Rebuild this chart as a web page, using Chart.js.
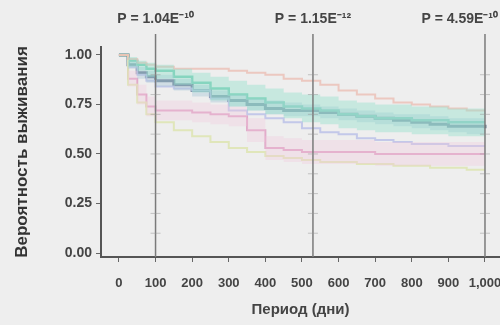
<!DOCTYPE html>
<html>
<head>
<meta charset="utf-8">
<script src="https://cdn.jsdelivr.net/npm/chart.js@4/dist/chart.umd.min.js"></script>
<style>
  html, body { margin: 0; padding: 0; background: #eeeeee; }
  #wrap { width: 500px; height: 325px; }
</style>
</head>
<body>
<div id="wrap"><canvas id="km"></canvas></div>
<script>
// days of follow-up
const days = [0, 25, 50, 75, 100, 150, 200, 250, 300, 350, 400, 450, 500, 550, 600, 650, 700, 750, 800, 850, 900, 950, 1000];

// survival estimates per group
const survDark = [1.0, 0.95, 0.91, 0.89, 0.87, 0.85, 0.82, 0.79, 0.77, 0.75, 0.73, 0.72, 0.72, 0.71, 0.70, 0.69, 0.68, 0.67, 0.66, 0.65, 0.64, 0.64, 0.63];
const darkUpper = [1.0, 0.97, 0.94, 0.92, 0.90, 0.88, 0.85, 0.82, 0.80, 0.78, 0.77, 0.76, 0.75, 0.74, 0.73, 0.72, 0.71, 0.70, 0.70, 0.69, 0.68, 0.68, 0.67];
const darkLower = [1.0, 0.93, 0.88, 0.86, 0.84, 0.82, 0.79, 0.76, 0.74, 0.72, 0.70, 0.69, 0.69, 0.68, 0.67, 0.66, 0.65, 0.64, 0.63, 0.62, 0.61, 0.60, 0.59];

const survTeal = [1.0, 0.97, 0.95, 0.93, 0.92, 0.89, 0.86, 0.83, 0.80, 0.78, 0.76, 0.74, 0.73, 0.72, 0.70, 0.69, 0.68, 0.68, 0.67, 0.67, 0.66, 0.66, 0.66];
const tealUpper = [1.0, 0.99, 0.97, 0.96, 0.95, 0.93, 0.91, 0.89, 0.87, 0.85, 0.83, 0.81, 0.80, 0.79, 0.77, 0.76, 0.75, 0.75, 0.74, 0.74, 0.73, 0.73, 0.73];
const tealLower = [1.0, 0.94, 0.92, 0.89, 0.88, 0.85, 0.81, 0.77, 0.74, 0.72, 0.70, 0.68, 0.66, 0.65, 0.63, 0.62, 0.61, 0.61, 0.60, 0.60, 0.59, 0.59, 0.58];

const survPink = [1.0, 0.88, 0.80, 0.74, 0.72, 0.72, 0.71, 0.70, 0.69, 0.62, 0.53, 0.52, 0.51, 0.51, 0.51, 0.51, 0.50, 0.50, 0.50, 0.50, 0.50, 0.50, 0.50];
const pinkUpper = [1.0, 0.92, 0.85, 0.79, 0.77, 0.77, 0.76, 0.75, 0.74, 0.68, 0.59, 0.58, 0.57, 0.57, 0.57, 0.57, 0.56, 0.56, 0.56, 0.56, 0.56, 0.56, 0.56];
const pinkLower = [1.0, 0.84, 0.75, 0.69, 0.67, 0.67, 0.66, 0.65, 0.64, 0.56, 0.47, 0.46, 0.45, 0.45, 0.45, 0.45, 0.44, 0.44, 0.44, 0.44, 0.44, 0.44, 0.44];

const survLavender = [1.0, 0.94, 0.90, 0.87, 0.84, 0.83, 0.82, 0.78, 0.72, 0.70, 0.68, 0.66, 0.63, 0.61, 0.60, 0.58, 0.57, 0.56, 0.55, 0.55, 0.54, 0.54, 0.54];
const survYellow = [1.0, 0.85, 0.76, 0.70, 0.66, 0.62, 0.59, 0.56, 0.53, 0.51, 0.49, 0.48, 0.47, 0.46, 0.46, 0.45, 0.45, 0.44, 0.44, 0.43, 0.43, 0.42, 0.42];
const survSalmon = [1.0, 0.98, 0.96, 0.95, 0.94, 0.93, 0.93, 0.93, 0.92, 0.91, 0.90, 0.88, 0.87, 0.85, 0.82, 0.80, 0.78, 0.76, 0.75, 0.74, 0.73, 0.72, 0.72];

// axis ticks and annotations
const yTicks = [0, 0.25, 0.5, 0.75, 1.0];
const xTicks = [0, 100, 200, 300, 400, 500, 600, 700, 800, 900, 1000];
const markerDays = [100, 530, 1000];
const markerLabels = ["P = 1.04E\u207B\u00B9\u2070", "P = 1.15E\u207B\u00B9\u00B2", "P = 4.59E\u207B\u00B9\u2070"];
const markerTicks = [0.1, 0.2, 0.3, 0.4, 0.5, 0.6, 0.7, 0.8, 0.9];

const FONT = '"Liberation Sans", Arial, sans-serif';
const pts = arr => arr.map((v, i) => ({ x: days[i], y: v }));

function band(upper, lower, color) {
  return [
    { data: pts(upper), stepped: true, borderWidth: 0, pointRadius: 0, backgroundColor: color, fill: '+1' },
    { data: pts(lower), stepped: true, borderWidth: 0, pointRadius: 0, backgroundColor: color, fill: false }
  ];
}

function line(vals, color, width) {
  return { data: pts(vals), stepped: true, borderColor: color, borderWidth: width, pointRadius: 0, fill: false };
}

const markers = {
  id: 'markers',
  afterDatasetsDraw(chart) {
    const { ctx, scales: { x, y } } = chart;
    ctx.save();
    markerDays.forEach((d, i) => {
      const px = x.getPixelForValue(d);
      ctx.strokeStyle = '#7a7a7a';
      ctx.lineWidth = 1.5;
      ctx.beginPath();
      ctx.moveTo(px, 34);
      ctx.lineTo(px, y.bottom);
      ctx.stroke();
      ctx.strokeStyle = 'rgba(150,150,150,0.5)';
      ctx.lineWidth = 1;
      markerTicks.forEach(t => {
        const py = y.getPixelForValue(t);
        ctx.beginPath();
        ctx.moveTo(px - 5, py);
        ctx.lineTo(px + 5, py);
        ctx.stroke();
      });
      ctx.fillStyle = '#444';
      ctx.font = 'bold 14px ' + FONT;
      ctx.textAlign = 'center';
      const w = ctx.measureText(markerLabels[i]).width;
      const cx = Math.min(px, chart.width - 2 - w / 2);
      ctx.fillText(markerLabels[i], cx, 23);
    });
    ctx.restore();
  }
};

new Chart(document.getElementById('km'), {
  type: 'line',
  data: {
    datasets: [
      ...band(tealUpper, tealLower, 'rgba(150, 225, 205, 0.45)'),
      ...band(darkUpper, darkLower, 'rgba(170, 200, 215, 0.45)'),
      ...band(pinkUpper, pinkLower, 'rgba(240, 200, 220, 0.35)'),
      line(survSalmon, 'rgba(235, 190, 180, 0.8)', 2),
      line(survYellow, 'rgba(222, 228, 180, 0.9)', 2),
      line(survLavender, 'rgba(190, 195, 232, 0.9)', 2),
      line(survPink, 'rgba(222, 160, 195, 0.9)', 2),
      line(survTeal, 'rgba(120, 205, 180, 1)', 2.5),
      line(survDark, 'rgba(100, 122, 142, 1)', 3)
    ]
  },
  options: {
    responsive: true,
    maintainAspectRatio: false,
    animation: false,
    layout: { padding: { top: 47, right: 0, left: 0, bottom: 0 } },
    plugins: { legend: { display: false }, tooltip: { enabled: false } },
    scales: {
      x: {
        type: 'linear',
        min: -49,
        max: 1041,
        afterBuildTicks: s => { s.ticks = xTicks.map(v => ({ value: v })); },
        afterFit: s => { s.height = 68; s.paddingLeft = 0; s.paddingRight = 0; },
        grid: { drawOnChartArea: false, tickLength: 5, color: '#666' },
        border: { color: '#555', width: 2 },
        ticks: {
          color: '#444', padding: 14, maxRotation: 0, autoSkip: false,
          font: { family: FONT, size: 13, weight: 'bold' },
          callback: v => v.toLocaleString('en-US')
        },
        title: {
          display: true, text: 'Период (дни)', color: '#444',
          font: { family: FONT, size: 15, weight: 'bold' },
          padding: { top: 0, bottom: 6 }
        }
      },
      y: {
        min: -0.02,
        max: 1.04,
        afterBuildTicks: s => { s.ticks = yTicks.map(v => ({ value: v })); },
        afterFit: s => { s.width = 101; },
        grid: { drawOnChartArea: false, tickLength: 5, color: '#666' },
        border: { color: '#555', width: 2 },
        ticks: {
          color: '#444', padding: 4,
          font: { family: FONT, size: 14, weight: 'bold' },
          callback: v => v.toFixed(2)
        },
        title: {
          display: true, text: 'Вероятность выживания', color: '#333',
          font: { family: FONT, size: 17, weight: 'bold' },
          padding: { top: 12, bottom: 0 }
        }
      }
    }
  },
  plugins: [markers]
});
</script>
</body>
</html>
